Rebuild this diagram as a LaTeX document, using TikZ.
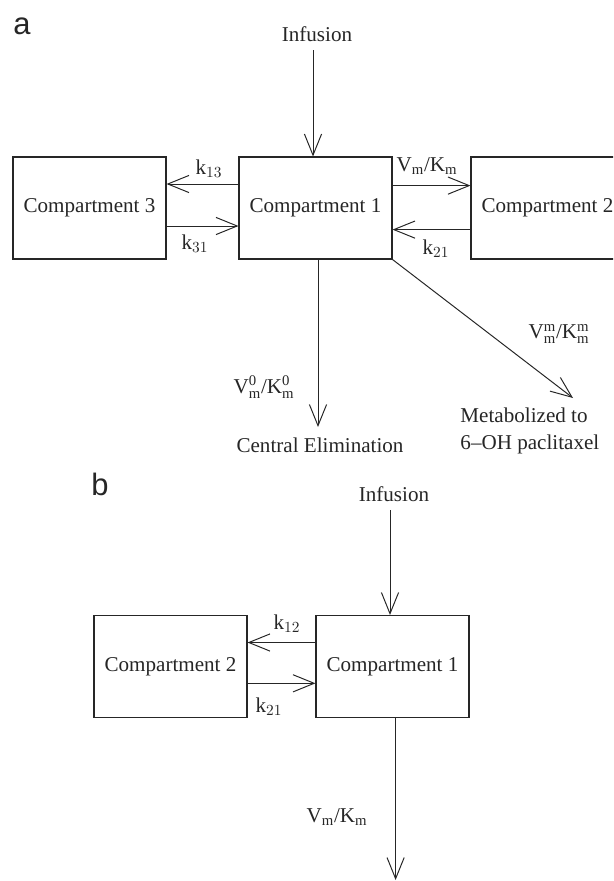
\documentclass[tikz,border=0pt]{standalone}
\usepackage{fontspec}
\setmainfont{Liberation Serif}
\newfontfamily\panelfont{Liberation Sans}
\usetikzlibrary{arrows.meta}
\definecolor{ink}{gray}{0.15}
\tikzset{
  % a compartment
  cmp/.style = {draw=ink, line width=0.75pt, text=ink, inner sep=0pt,
                minimum width=3.825cm, minimum height=2.55cm,
                font=\fontsize{15}{18}\selectfont},
  % a transfer
  tr/.style  = {draw=ink, line width=0.7pt,
                -{Straight Barb[length=5.3mm,width=4.3mm]}},
  % a rate or an end label
  el/.style  = {text=ink, inner sep=1pt, font=\fontsize{15}{19.2}\selectfont},
  % the panel letter
  tag/.style = {text=ink, inner sep=0pt, anchor=base west,
                font=\panelfont\fontsize{22}{22}\selectfont},
}
\newcommand{\kr}[1]{$\mathrm{k}_{#1}$}
\newcommand{\vk}[1]{$\mathrm{V}^{\mathrm{#1}}_{\mathrm{m}}\mbox{/}\mathrm{K}^{\mathrm{#1}}_{\mathrm{m}}$}

\begin{document}
\begin{tikzpicture}
  \clip (0,0) rectangle (15.325,-22.025);
  % panel a
  \node[tag] (ta) at (0.33,-0.85) {a};
  \node[cmp] (c3a) at ( 2.2375,-5.2) {Compartment 3};
  \node[cmp] (c1a) at ( 7.8875,-5.2) {Compartment 1};
  \node[cmp] (c2a) at (13.6875,-5.2) {Compartment 2};
  \node[el] (infa) at (7.925,-0.85) {Infusion};
  \node[el] (cea) at (8.0,-11.125) {Central Elimination};
  \node[el, align=left, anchor=west] (met) at (11.47,-10.78)
        {Metabolized to\\6--OH paclitaxel};
  \coordinate (ia) at (7.825,-1.25);
  \coordinate (ea) at (7.95,-10.675);
  \coordinate (ma) at (14.325,-9.95);
  \draw[tr] (ia) -- (ia |- c1a.north);
  \draw[tr] ([yshift=6mm]c1a.west) -- ([yshift=6mm]c3a.east);
  \draw[tr] ([yshift=-4.5mm]c3a.east) -- ([yshift=-4.5mm]c1a.west);
  \draw[tr] ([yshift=5.6mm]c1a.east) -- ([yshift=5.6mm]c2a.west);
  \draw[tr] ([yshift=-5.4mm]c2a.west) -- ([yshift=-5.4mm]c1a.east);
  \draw[tr] (ea |- c1a.south) -- (ea);
  \draw[tr] (c1a.south east) -- (ma);
  \node[el] at ( 5.225,-4.225) {\kr{13}};
  \node[el] at ( 4.875,-6.100) {\kr{31}};
  \node[el] at (10.675,-4.150)
        {$\mathrm{V}_{\mathrm{m}}\mbox{/}\mathrm{K}_{\mathrm{m}}$};
  \node[el] at (10.900,-6.225) {\kr{21}};
  \node[el] at ( 6.600,-9.675) {\vk{0}};
  \node[el] at (13.975,-8.350) {\vk{m}};
  % panel b
  \node[tag] (tb) at (2.28,-12.375) {b};
  \node[cmp] (c2b) at (4.2625,-16.6625) {Compartment 2};
  \node[cmp] (c1b) at (9.8125,-16.6625) {Compartment 1};
  \node[el] (infb) at (9.85,-12.35) {Infusion};
  \coordinate (ib) at (9.75,-12.75);
  \coordinate (eb) at (9.89,-22.0);
  \draw[tr] (ib) -- (ib |- c1b.north);
  \draw[tr] ([yshift=6mm]c1b.west) -- ([yshift=6mm]c2b.east);
  \draw[tr] ([yshift=-4.2mm]c2b.east) -- ([yshift=-4.2mm]c1b.west);
  \draw[tr] (eb |- c1b.south) -- (eb);
  \node[el] at (7.175,-15.600) {\kr{12}};
  \node[el] at (6.725,-17.675) {\kr{21}};
  \node[el] at (8.425,-20.425)
        {$\mathrm{V}_{\mathrm{m}}\mbox{/}\mathrm{K}_{\mathrm{m}}$};
\end{tikzpicture}
\end{document}
